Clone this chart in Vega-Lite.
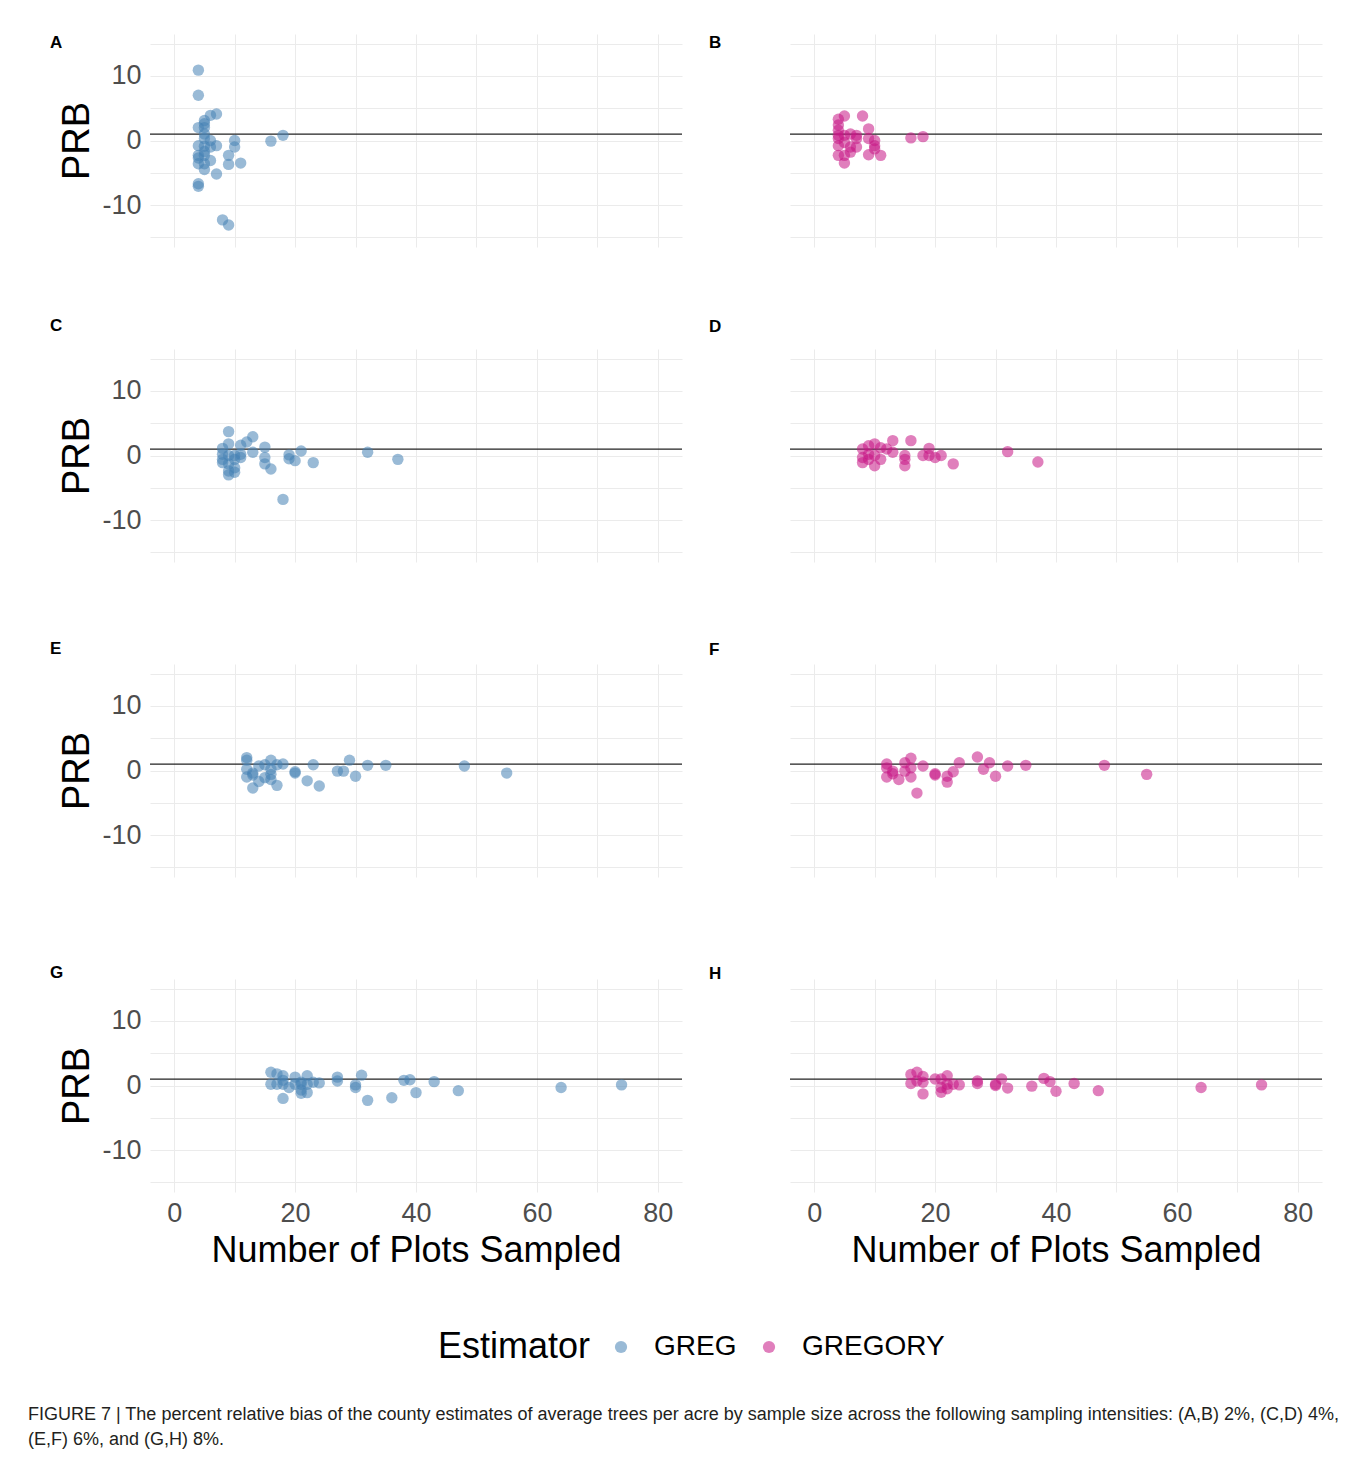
{
"$schema":"https://vega.github.io/schema/vega-lite/v6.json",
"background":"white",
"padding":{"left":28,"top":29,"right":5,"bottom":10},
"datasets":{"pts":[
{"p":"A","n":4,"prb":10.9,"est":"GREG"},{"p":"A","n":4,"prb":7.0,"est":"GREG"},{"p":"A","n":7,"prb":4.1,"est":"GREG"},{"p":"A","n":6,"prb":3.9,"est":"GREG"},{"p":"A","n":5,"prb":3.1,"est":"GREG"},{"p":"A","n":5,"prb":2.6,"est":"GREG"},{"p":"A","n":5,"prb":2.0,"est":"GREG"},{"p":"A","n":4,"prb":2.0,"est":"GREG"},{"p":"A","n":5,"prb":1.0,"est":"GREG"},{"p":"A","n":5,"prb":0.3,"est":"GREG"},{"p":"A","n":10,"prb":0,"est":"GREG"},{"p":"A","n":10,"prb":-1.0,"est":"GREG"},{"p":"A","n":6,"prb":0,"est":"GREG"},{"p":"A","n":4,"prb":-0.8,"est":"GREG"},{"p":"A","n":5,"prb":-0.9,"est":"GREG"},{"p":"A","n":6,"prb":-1.0,"est":"GREG"},{"p":"A","n":7,"prb":-0.8,"est":"GREG"},{"p":"A","n":4,"prb":-2.3,"est":"GREG"},{"p":"A","n":4,"prb":-2.7,"est":"GREG"},{"p":"A","n":5,"prb":-2.3,"est":"GREG"},{"p":"A","n":5,"prb":-3.6,"est":"GREG"},{"p":"A","n":4,"prb":-3.6,"est":"GREG"},{"p":"A","n":5,"prb":-4.5,"est":"GREG"},{"p":"A","n":9,"prb":-2.3,"est":"GREG"},{"p":"A","n":9,"prb":-3.7,"est":"GREG"},{"p":"A","n":11,"prb":-3.5,"est":"GREG"},{"p":"A","n":7,"prb":-5.2,"est":"GREG"},{"p":"A","n":4,"prb":-6.7,"est":"GREG"},{"p":"A","n":4,"prb":-7.1,"est":"GREG"},{"p":"A","n":8,"prb":-12.3,"est":"GREG"},{"p":"A","n":9,"prb":-13.1,"est":"GREG"},{"p":"A","n":16,"prb":-0.1,"est":"GREG"},{"p":"A","n":18,"prb":0.8,"est":"GREG"},{"p":"A","n":5,"prb":-1.7,"est":"GREG"},{"p":"A","n":6,"prb":-3.1,"est":"GREG"},
{"p":"B","n":8,"prb":3.8,"est":"GREGORY"},{"p":"B","n":5,"prb":3.8,"est":"GREGORY"},{"p":"B","n":4,"prb":3.3,"est":"GREGORY"},{"p":"B","n":4,"prb":2.4,"est":"GREGORY"},{"p":"B","n":4,"prb":1.6,"est":"GREGORY"},{"p":"B","n":9,"prb":1.8,"est":"GREGORY"},{"p":"B","n":5,"prb":0.8,"est":"GREGORY"},{"p":"B","n":7,"prb":0.8,"est":"GREGORY"},{"p":"B","n":7,"prb":0.3,"est":"GREGORY"},{"p":"B","n":4,"prb":0.3,"est":"GREGORY"},{"p":"B","n":9,"prb":0.3,"est":"GREGORY"},{"p":"B","n":10,"prb":0,"est":"GREGORY"},{"p":"B","n":10,"prb":-0.8,"est":"GREGORY"},{"p":"B","n":4,"prb":-0.8,"est":"GREGORY"},{"p":"B","n":6,"prb":-1.0,"est":"GREGORY"},{"p":"B","n":5,"prb":-0.3,"est":"GREGORY"},{"p":"B","n":6,"prb":-1.8,"est":"GREGORY"},{"p":"B","n":7,"prb":-1.0,"est":"GREGORY"},{"p":"B","n":4,"prb":-2.3,"est":"GREGORY"},{"p":"B","n":5,"prb":-2.3,"est":"GREGORY"},{"p":"B","n":9,"prb":-2.2,"est":"GREGORY"},{"p":"B","n":11,"prb":-2.3,"est":"GREGORY"},{"p":"B","n":5,"prb":-3.5,"est":"GREGORY"},{"p":"B","n":16,"prb":0.4,"est":"GREGORY"},{"p":"B","n":18,"prb":0.6,"est":"GREGORY"},{"p":"B","n":4,"prb":0.8,"est":"GREGORY"},{"p":"B","n":6,"prb":1.0,"est":"GREGORY"},{"p":"B","n":10,"prb":-1.3,"est":"GREGORY"},
{"p":"C","n":9,"prb":3.7,"est":"GREG"},{"p":"C","n":13,"prb":2.9,"est":"GREG"},{"p":"C","n":12,"prb":2.1,"est":"GREG"},{"p":"C","n":11,"prb":1.6,"est":"GREG"},{"p":"C","n":9,"prb":1.8,"est":"GREG"},{"p":"C","n":8,"prb":1.1,"est":"GREG"},{"p":"C","n":15,"prb":1.3,"est":"GREG"},{"p":"C","n":21,"prb":0.7,"est":"GREG"},{"p":"C","n":13,"prb":0.5,"est":"GREG"},{"p":"C","n":8,"prb":0.2,"est":"GREG"},{"p":"C","n":9,"prb":0,"est":"GREG"},{"p":"C","n":10,"prb":0,"est":"GREG"},{"p":"C","n":11,"prb":0.2,"est":"GREG"},{"p":"C","n":15,"prb":-0.3,"est":"GREG"},{"p":"C","n":19,"prb":0.1,"est":"GREG"},{"p":"C","n":19,"prb":-0.5,"est":"GREG"},{"p":"C","n":20,"prb":-0.8,"est":"GREG"},{"p":"C","n":23,"prb":-1.1,"est":"GREG"},{"p":"C","n":32,"prb":0.5,"est":"GREG"},{"p":"C","n":37,"prb":-0.6,"est":"GREG"},{"p":"C","n":8,"prb":-0.6,"est":"GREG"},{"p":"C","n":10,"prb":-0.6,"est":"GREG"},{"p":"C","n":11,"prb":-0.3,"est":"GREG"},{"p":"C","n":9,"prb":-1.3,"est":"GREG"},{"p":"C","n":10,"prb":-1.9,"est":"GREG"},{"p":"C","n":9,"prb":-2.4,"est":"GREG"},{"p":"C","n":10,"prb":-2.6,"est":"GREG"},{"p":"C","n":9,"prb":-3.0,"est":"GREG"},{"p":"C","n":15,"prb":-1.3,"est":"GREG"},{"p":"C","n":16,"prb":-2.1,"est":"GREG"},{"p":"C","n":18,"prb":-6.8,"est":"GREG"},{"p":"C","n":8,"prb":-1.1,"est":"GREG"},
{"p":"D","n":9,"prb":1.5,"est":"GREGORY"},{"p":"D","n":10,"prb":1.8,"est":"GREGORY"},{"p":"D","n":13,"prb":2.3,"est":"GREGORY"},{"p":"D","n":16,"prb":2.3,"est":"GREGORY"},{"p":"D","n":19,"prb":1.1,"est":"GREGORY"},{"p":"D","n":8,"prb":1.0,"est":"GREGORY"},{"p":"D","n":11,"prb":1.2,"est":"GREGORY"},{"p":"D","n":12,"prb":1.0,"est":"GREGORY"},{"p":"D","n":13,"prb":0.5,"est":"GREGORY"},{"p":"D","n":9,"prb":0.2,"est":"GREGORY"},{"p":"D","n":8,"prb":-0.3,"est":"GREGORY"},{"p":"D","n":10,"prb":0,"est":"GREGORY"},{"p":"D","n":11,"prb":-0.6,"est":"GREGORY"},{"p":"D","n":10,"prb":-1.6,"est":"GREGORY"},{"p":"D","n":8,"prb":-1.1,"est":"GREGORY"},{"p":"D","n":15,"prb":0,"est":"GREGORY"},{"p":"D","n":15,"prb":-0.6,"est":"GREGORY"},{"p":"D","n":15,"prb":-1.6,"est":"GREGORY"},{"p":"D","n":18,"prb":0,"est":"GREGORY"},{"p":"D","n":19,"prb":0,"est":"GREGORY"},{"p":"D","n":20,"prb":-0.3,"est":"GREGORY"},{"p":"D","n":21,"prb":0,"est":"GREGORY"},{"p":"D","n":23,"prb":-1.3,"est":"GREGORY"},{"p":"D","n":32,"prb":0.6,"est":"GREGORY"},{"p":"D","n":37,"prb":-1.0,"est":"GREGORY"},{"p":"D","n":9,"prb":-0.6,"est":"GREGORY"},
{"p":"E","n":12,"prb":2.0,"est":"GREG"},{"p":"E","n":12,"prb":1.6,"est":"GREG"},{"p":"E","n":12,"prb":0.2,"est":"GREG"},{"p":"E","n":12,"prb":-1.0,"est":"GREG"},{"p":"E","n":13,"prb":-0.4,"est":"GREG"},{"p":"E","n":13,"prb":-2.7,"est":"GREG"},{"p":"E","n":14,"prb":0.7,"est":"GREG"},{"p":"E","n":15,"prb":0.9,"est":"GREG"},{"p":"E","n":16,"prb":1.6,"est":"GREG"},{"p":"E","n":17,"prb":0.9,"est":"GREG"},{"p":"E","n":18,"prb":1.0,"est":"GREG"},{"p":"E","n":16,"prb":0.2,"est":"GREG"},{"p":"E","n":16,"prb":-0.6,"est":"GREG"},{"p":"E","n":15,"prb":-1.1,"est":"GREG"},{"p":"E","n":14,"prb":-1.7,"est":"GREG"},{"p":"E","n":16,"prb":-1.4,"est":"GREG"},{"p":"E","n":17,"prb":-2.3,"est":"GREG"},{"p":"E","n":20,"prb":-0.2,"est":"GREG"},{"p":"E","n":20,"prb":-0.4,"est":"GREG"},{"p":"E","n":22,"prb":-1.6,"est":"GREG"},{"p":"E","n":24,"prb":-2.4,"est":"GREG"},{"p":"E","n":23,"prb":0.9,"est":"GREG"},{"p":"E","n":27,"prb":-0.1,"est":"GREG"},{"p":"E","n":28,"prb":-0.1,"est":"GREG"},{"p":"E","n":29,"prb":1.6,"est":"GREG"},{"p":"E","n":30,"prb":-0.9,"est":"GREG"},{"p":"E","n":32,"prb":0.8,"est":"GREG"},{"p":"E","n":35,"prb":0.8,"est":"GREG"},{"p":"E","n":48,"prb":0.7,"est":"GREG"},{"p":"E","n":55,"prb":-0.4,"est":"GREG"},{"p":"E","n":13,"prb":-0.7,"est":"GREG"},
{"p":"F","n":12,"prb":1.0,"est":"GREGORY"},{"p":"F","n":12,"prb":0.4,"est":"GREGORY"},{"p":"F","n":12,"prb":-1.0,"est":"GREGORY"},{"p":"F","n":13,"prb":-0.1,"est":"GREGORY"},{"p":"F","n":14,"prb":-1.4,"est":"GREGORY"},{"p":"F","n":15,"prb":1.2,"est":"GREGORY"},{"p":"F","n":16,"prb":1.9,"est":"GREGORY"},{"p":"F","n":16,"prb":0.4,"est":"GREGORY"},{"p":"F","n":16,"prb":-1.0,"est":"GREGORY"},{"p":"F","n":18,"prb":0.7,"est":"GREGORY"},{"p":"F","n":17,"prb":-3.5,"est":"GREGORY"},{"p":"F","n":20,"prb":-0.5,"est":"GREGORY"},{"p":"F","n":20,"prb":-0.7,"est":"GREGORY"},{"p":"F","n":22,"prb":-0.9,"est":"GREGORY"},{"p":"F","n":22,"prb":-1.8,"est":"GREGORY"},{"p":"F","n":23,"prb":-0.2,"est":"GREGORY"},{"p":"F","n":24,"prb":1.2,"est":"GREGORY"},{"p":"F","n":27,"prb":2.1,"est":"GREGORY"},{"p":"F","n":28,"prb":0.2,"est":"GREGORY"},{"p":"F","n":29,"prb":1.2,"est":"GREGORY"},{"p":"F","n":30,"prb":-0.9,"est":"GREGORY"},{"p":"F","n":32,"prb":0.7,"est":"GREGORY"},{"p":"F","n":35,"prb":0.8,"est":"GREGORY"},{"p":"F","n":48,"prb":0.8,"est":"GREGORY"},{"p":"F","n":55,"prb":-0.6,"est":"GREGORY"},{"p":"F","n":13,"prb":-0.5,"est":"GREGORY"},{"p":"F","n":15,"prb":-0.1,"est":"GREGORY"},
{"p":"G","n":16,"prb":2.05,"est":"GREG"},{"p":"G","n":16,"prb":0.2,"est":"GREG"},{"p":"G","n":17,"prb":1.8,"est":"GREG"},{"p":"G","n":18,"prb":1.5,"est":"GREG"},{"p":"G","n":18,"prb":0.8,"est":"GREG"},{"p":"G","n":18,"prb":0.2,"est":"GREG"},{"p":"G","n":18,"prb":-2.0,"est":"GREG"},{"p":"G","n":17,"prb":0.2,"est":"GREG"},{"p":"G","n":20,"prb":1.3,"est":"GREG"},{"p":"G","n":20,"prb":0.2,"est":"GREG"},{"p":"G","n":19,"prb":-0.3,"est":"GREG"},{"p":"G","n":21,"prb":0.5,"est":"GREG"},{"p":"G","n":21,"prb":-0.7,"est":"GREG"},{"p":"G","n":21,"prb":-1.2,"est":"GREG"},{"p":"G","n":22,"prb":1.5,"est":"GREG"},{"p":"G","n":22,"prb":-1.1,"est":"GREG"},{"p":"G","n":22,"prb":0.2,"est":"GREG"},{"p":"G","n":23,"prb":0.5,"est":"GREG"},{"p":"G","n":24,"prb":0.4,"est":"GREG"},{"p":"G","n":27,"prb":1.3,"est":"GREG"},{"p":"G","n":27,"prb":0.7,"est":"GREG"},{"p":"G","n":30,"prb":0.1,"est":"GREG"},{"p":"G","n":30,"prb":-0.3,"est":"GREG"},{"p":"G","n":31,"prb":1.6,"est":"GREG"},{"p":"G","n":32,"prb":-2.3,"est":"GREG"},{"p":"G","n":36,"prb":-1.9,"est":"GREG"},{"p":"G","n":38,"prb":0.8,"est":"GREG"},{"p":"G","n":39,"prb":0.9,"est":"GREG"},{"p":"G","n":40,"prb":-1.1,"est":"GREG"},{"p":"G","n":43,"prb":0.6,"est":"GREG"},{"p":"G","n":47,"prb":-0.8,"est":"GREG"},{"p":"G","n":64,"prb":-0.3,"est":"GREG"},{"p":"G","n":74,"prb":0.1,"est":"GREG"},{"p":"G","n":21,"prb":0.2,"est":"GREG"},
{"p":"H","n":16,"prb":1.7,"est":"GREGORY"},{"p":"H","n":16,"prb":0.3,"est":"GREGORY"},{"p":"H","n":17,"prb":2.05,"est":"GREGORY"},{"p":"H","n":18,"prb":1.4,"est":"GREGORY"},{"p":"H","n":18,"prb":0.5,"est":"GREGORY"},{"p":"H","n":17,"prb":0.7,"est":"GREGORY"},{"p":"H","n":18,"prb":-1.3,"est":"GREGORY"},{"p":"H","n":20,"prb":1.0,"est":"GREGORY"},{"p":"H","n":21,"prb":1.0,"est":"GREGORY"},{"p":"H","n":21,"prb":-1.05,"est":"GREGORY"},{"p":"H","n":21,"prb":-0.3,"est":"GREGORY"},{"p":"H","n":22,"prb":1.5,"est":"GREGORY"},{"p":"H","n":22,"prb":0.2,"est":"GREGORY"},{"p":"H","n":22,"prb":-0.5,"est":"GREGORY"},{"p":"H","n":23,"prb":0.2,"est":"GREGORY"},{"p":"H","n":24,"prb":0.1,"est":"GREGORY"},{"p":"H","n":27,"prb":0.7,"est":"GREGORY"},{"p":"H","n":27,"prb":0.3,"est":"GREGORY"},{"p":"H","n":30,"prb":0.2,"est":"GREGORY"},{"p":"H","n":30,"prb":0,"est":"GREGORY"},{"p":"H","n":31,"prb":1.0,"est":"GREGORY"},{"p":"H","n":32,"prb":-0.4,"est":"GREGORY"},{"p":"H","n":36,"prb":-0.1,"est":"GREGORY"},{"p":"H","n":38,"prb":1.1,"est":"GREGORY"},{"p":"H","n":39,"prb":0.6,"est":"GREGORY"},{"p":"H","n":40,"prb":-0.9,"est":"GREGORY"},{"p":"H","n":43,"prb":0.3,"est":"GREGORY"},{"p":"H","n":47,"prb":-0.8,"est":"GREGORY"},{"p":"H","n":64,"prb":-0.3,"est":"GREGORY"},{"p":"H","n":74,"prb":0.1,"est":"GREGORY"}
]},
"title":{"text":["FIGURE 7 | The percent relative bias of the county estimates of average trees per acre by sample size across the following sampling intensities: (A,B) 2%, (C,D) 4%,","(E,F) 6%, and (G,H) 8%."],"orient":"bottom","anchor":"start","frame":"bounds","fontSize":18,"font":"Liberation Sans","fontWeight":"normal","color":"#231F20","lineHeight":25,"offset":41,"dx":-22},
"columns":2,
"spacing":{"row":102,"column":108},
"bounds":"flush",
"concat":[
{"width":532,"height":213,"title":{"text":"A","dx":-100,"dy":26},
 "layer":[
 {"data":{"values":[{}]},"mark":{"type":"rule","color":"#222222","strokeWidth":1.3},"encoding":{"y":{"datum":1,"type":"quantitative","scale":{"domain":[-16.5,16.5],"nice":false,"zero":false},"axis":{"values":[-15,-10,-5,0,5,10,15],"labelExpr":"datum.value == -10 ? '-10' : datum.value == 0 ? '0' : datum.value == 10 ? '10' : ''","title":"PRB"}}}},
 {"data":{"name":"pts"},"transform":[{"filter":"datum.p=='A'"}],"mark":{"type":"circle","size":130,"opacity":0.55},
  "encoding":{"x":{"field":"n","type":"quantitative","scale":{"domain":[-4,84],"nice":false,"zero":false},"axis":{"values":[0,10,20,30,40,50,60,70,80],"labels":false,"title":null}},
   "y":{"field":"prb","type":"quantitative","scale":{"domain":[-16.5,16.5],"nice":false,"zero":false},"axis":{"values":[-15,-10,-5,0,5,10,15],"labelExpr":"datum.value == -10 ? '-10' : datum.value == 0 ? '0' : datum.value == 10 ? '10' : ''","title":"PRB"}},
   "color":{"field":"est","type":"nominal","scale":{"domain":["GREG","GREGORY"],"range":["steelblue","mediumvioletred"]},"legend":{"title":"Estimator"}}}}
 ]},
{"width":532,"height":213,"title":{"text":"B","dx":-81,"dy":22},
 "layer":[
 {"data":{"values":[{}]},"mark":{"type":"rule","color":"#222222","strokeWidth":1.3},"encoding":{"y":{"datum":1,"type":"quantitative","scale":{"domain":[-16.5,16.5],"nice":false,"zero":false},"axis":{"values":[-15,-10,-5,0,5,10,15],"labels":false,"title":null}}}},
 {"data":{"name":"pts"},"transform":[{"filter":"datum.p=='B'"}],"mark":{"type":"circle","size":130,"opacity":0.55},
  "encoding":{"x":{"field":"n","type":"quantitative","scale":{"domain":[-4,84],"nice":false,"zero":false},"axis":{"values":[0,10,20,30,40,50,60,70,80],"labels":false,"title":null}},
   "y":{"field":"prb","type":"quantitative","scale":{"domain":[-16.5,16.5],"nice":false,"zero":false},"axis":{"values":[-15,-10,-5,0,5,10,15],"labels":false,"title":null}},
   "color":{"field":"est","type":"nominal","scale":{"domain":["GREG","GREGORY"],"range":["steelblue","mediumvioletred"]},"legend":{"title":"Estimator"}}}}
 ]},
{"width":532,"height":213,"title":{"text":"C","dx":-100,"dy":-5.5},
 "layer":[
 {"data":{"values":[{}]},"mark":{"type":"rule","color":"#222222","strokeWidth":1.3},"encoding":{"y":{"datum":1,"type":"quantitative","scale":{"domain":[-16.5,16.5],"nice":false,"zero":false},"axis":{"values":[-15,-10,-5,0,5,10,15],"labelExpr":"datum.value == -10 ? '-10' : datum.value == 0 ? '0' : datum.value == 10 ? '10' : ''","title":"PRB"}}}},
 {"data":{"name":"pts"},"transform":[{"filter":"datum.p=='C'"}],"mark":{"type":"circle","size":130,"opacity":0.55},
  "encoding":{"x":{"field":"n","type":"quantitative","scale":{"domain":[-4,84],"nice":false,"zero":false},"axis":{"values":[0,10,20,30,40,50,60,70,80],"labels":false,"title":null}},
   "y":{"field":"prb","type":"quantitative","scale":{"domain":[-16.5,16.5],"nice":false,"zero":false},"axis":{"values":[-15,-10,-5,0,5,10,15],"labelExpr":"datum.value == -10 ? '-10' : datum.value == 0 ? '0' : datum.value == 10 ? '10' : ''","title":"PRB"}},
   "color":{"field":"est","type":"nominal","scale":{"domain":["GREG","GREGORY"],"range":["steelblue","mediumvioletred"]},"legend":{"title":"Estimator"}}}}
 ]},
{"width":532,"height":213,"title":{"text":"D","dx":-81,"dy":-9.5},
 "layer":[
 {"data":{"values":[{}]},"mark":{"type":"rule","color":"#222222","strokeWidth":1.3},"encoding":{"y":{"datum":1,"type":"quantitative","scale":{"domain":[-16.5,16.5],"nice":false,"zero":false},"axis":{"values":[-15,-10,-5,0,5,10,15],"labels":false,"title":null}}}},
 {"data":{"name":"pts"},"transform":[{"filter":"datum.p=='D'"}],"mark":{"type":"circle","size":130,"opacity":0.55},
  "encoding":{"x":{"field":"n","type":"quantitative","scale":{"domain":[-4,84],"nice":false,"zero":false},"axis":{"values":[0,10,20,30,40,50,60,70,80],"labels":false,"title":null}},
   "y":{"field":"prb","type":"quantitative","scale":{"domain":[-16.5,16.5],"nice":false,"zero":false},"axis":{"values":[-15,-10,-5,0,5,10,15],"labels":false,"title":null}},
   "color":{"field":"est","type":"nominal","scale":{"domain":["GREG","GREGORY"],"range":["steelblue","mediumvioletred"]},"legend":{"title":"Estimator"}}}}
 ]},
{"width":532,"height":213,"title":{"text":"E","dx":-100,"dy":2.5},
 "layer":[
 {"data":{"values":[{}]},"mark":{"type":"rule","color":"#222222","strokeWidth":1.3},"encoding":{"y":{"datum":1,"type":"quantitative","scale":{"domain":[-16.5,16.5],"nice":false,"zero":false},"axis":{"values":[-15,-10,-5,0,5,10,15],"labelExpr":"datum.value == -10 ? '-10' : datum.value == 0 ? '0' : datum.value == 10 ? '10' : ''","title":"PRB"}}}},
 {"data":{"name":"pts"},"transform":[{"filter":"datum.p=='E'"}],"mark":{"type":"circle","size":130,"opacity":0.55},
  "encoding":{"x":{"field":"n","type":"quantitative","scale":{"domain":[-4,84],"nice":false,"zero":false},"axis":{"values":[0,10,20,30,40,50,60,70,80],"labels":false,"title":null}},
   "y":{"field":"prb","type":"quantitative","scale":{"domain":[-16.5,16.5],"nice":false,"zero":false},"axis":{"values":[-15,-10,-5,0,5,10,15],"labelExpr":"datum.value == -10 ? '-10' : datum.value == 0 ? '0' : datum.value == 10 ? '10' : ''","title":"PRB"}},
   "color":{"field":"est","type":"nominal","scale":{"domain":["GREG","GREGORY"],"range":["steelblue","mediumvioletred"]},"legend":{"title":"Estimator"}}}}
 ]},
{"width":532,"height":213,"title":{"text":"F","dx":-81,"dy":-1.5},
 "layer":[
 {"data":{"values":[{}]},"mark":{"type":"rule","color":"#222222","strokeWidth":1.3},"encoding":{"y":{"datum":1,"type":"quantitative","scale":{"domain":[-16.5,16.5],"nice":false,"zero":false},"axis":{"values":[-15,-10,-5,0,5,10,15],"labels":false,"title":null}}}},
 {"data":{"name":"pts"},"transform":[{"filter":"datum.p=='F'"}],"mark":{"type":"circle","size":130,"opacity":0.55},
  "encoding":{"x":{"field":"n","type":"quantitative","scale":{"domain":[-4,84],"nice":false,"zero":false},"axis":{"values":[0,10,20,30,40,50,60,70,80],"labels":false,"title":null}},
   "y":{"field":"prb","type":"quantitative","scale":{"domain":[-16.5,16.5],"nice":false,"zero":false},"axis":{"values":[-15,-10,-5,0,5,10,15],"labels":false,"title":null}},
   "color":{"field":"est","type":"nominal","scale":{"domain":["GREG","GREGORY"],"range":["steelblue","mediumvioletred"]},"legend":{"title":"Estimator"}}}}
 ]},
{"width":532,"height":213,"title":{"text":"G","dx":-100,"dy":11.6},
 "layer":[
 {"data":{"values":[{}]},"mark":{"type":"rule","color":"#222222","strokeWidth":1.3},"encoding":{"y":{"datum":1,"type":"quantitative","scale":{"domain":[-16.5,16.5],"nice":false,"zero":false},"axis":{"values":[-15,-10,-5,0,5,10,15],"labelExpr":"datum.value == -10 ? '-10' : datum.value == 0 ? '0' : datum.value == 10 ? '10' : ''","title":"PRB"}}}},
 {"data":{"name":"pts"},"transform":[{"filter":"datum.p=='G'"}],"mark":{"type":"circle","size":130,"opacity":0.55},
  "encoding":{"x":{"field":"n","type":"quantitative","scale":{"domain":[-4,84],"nice":false,"zero":false},"axis":{"values":[0,10,20,30,40,50,60,70,80],"labelExpr":"datum.value % 20 == 0 ? '' + datum.value : ''","title":"Number of Plots Sampled"}},
   "y":{"field":"prb","type":"quantitative","scale":{"domain":[-16.5,16.5],"nice":false,"zero":false},"axis":{"values":[-15,-10,-5,0,5,10,15],"labelExpr":"datum.value == -10 ? '-10' : datum.value == 0 ? '0' : datum.value == 10 ? '10' : ''","title":"PRB"}},
   "color":{"field":"est","type":"nominal","scale":{"domain":["GREG","GREGORY"],"range":["steelblue","mediumvioletred"]},"legend":{"title":"Estimator"}}}}
 ]},
{"width":532,"height":213,"title":{"text":"H","dx":-81,"dy":7.6},
 "layer":[
 {"data":{"values":[{}]},"mark":{"type":"rule","color":"#222222","strokeWidth":1.3},"encoding":{"y":{"datum":1,"type":"quantitative","scale":{"domain":[-16.5,16.5],"nice":false,"zero":false},"axis":{"values":[-15,-10,-5,0,5,10,15],"labels":false,"title":null}}}},
 {"data":{"name":"pts"},"transform":[{"filter":"datum.p=='H'"}],"mark":{"type":"circle","size":130,"opacity":0.55},
  "encoding":{"x":{"field":"n","type":"quantitative","scale":{"domain":[-4,84],"nice":false,"zero":false},"axis":{"values":[0,10,20,30,40,50,60,70,80],"labelExpr":"datum.value % 20 == 0 ? '' + datum.value : ''","title":"Number of Plots Sampled"}},
   "y":{"field":"prb","type":"quantitative","scale":{"domain":[-16.5,16.5],"nice":false,"zero":false},"axis":{"values":[-15,-10,-5,0,5,10,15],"labels":false,"title":null}},
   "color":{"field":"est","type":"nominal","scale":{"domain":["GREG","GREGORY"],"range":["steelblue","mediumvioletred"]},"legend":{"title":"Estimator"}}}}
 ]}
],
"config":{
 "view":{"stroke":null},
 "font":"Liberation Sans",
 "title":{"anchor":"start","frame":"group","offset":0,"baseline":"alphabetic","fontSize":17,"fontWeight":"bold","font":"Liberation Sans","color":"#000000"},
 "axis":{"grid":true,"gridColor":"#EBEBEB","gridWidth":1,"domain":false,"ticks":false,"labelFont":"Liberation Sans","labelFontSize":27,"labelColor":"#4D4D4D","labelOverlap":false,"labelFlush":false,"titleFont":"Liberation Sans","titleFontSize":36,"titleFontWeight":"normal","titleColor":"#000000"},
 "axisY":{"labelPadding":9,"titlePadding":5,"titleFontSize":38},
 "axisX":{"labelPadding":8,"titlePadding":7},
 "legend":{"orient":"none","legendX":288,"legendY":1299,"direction":"horizontal","titleOrient":"left","titleFontSize":36,"titleFont":"Liberation Sans","titleFontWeight":"normal","titleColor":"#000000","labelFontSize":28,"labelFont":"Liberation Sans","labelColor":"#000000","symbolSize":150,"symbolType":"circle","labelOffset":19,"columnPadding":18,"titlePadding":16}
}
}
